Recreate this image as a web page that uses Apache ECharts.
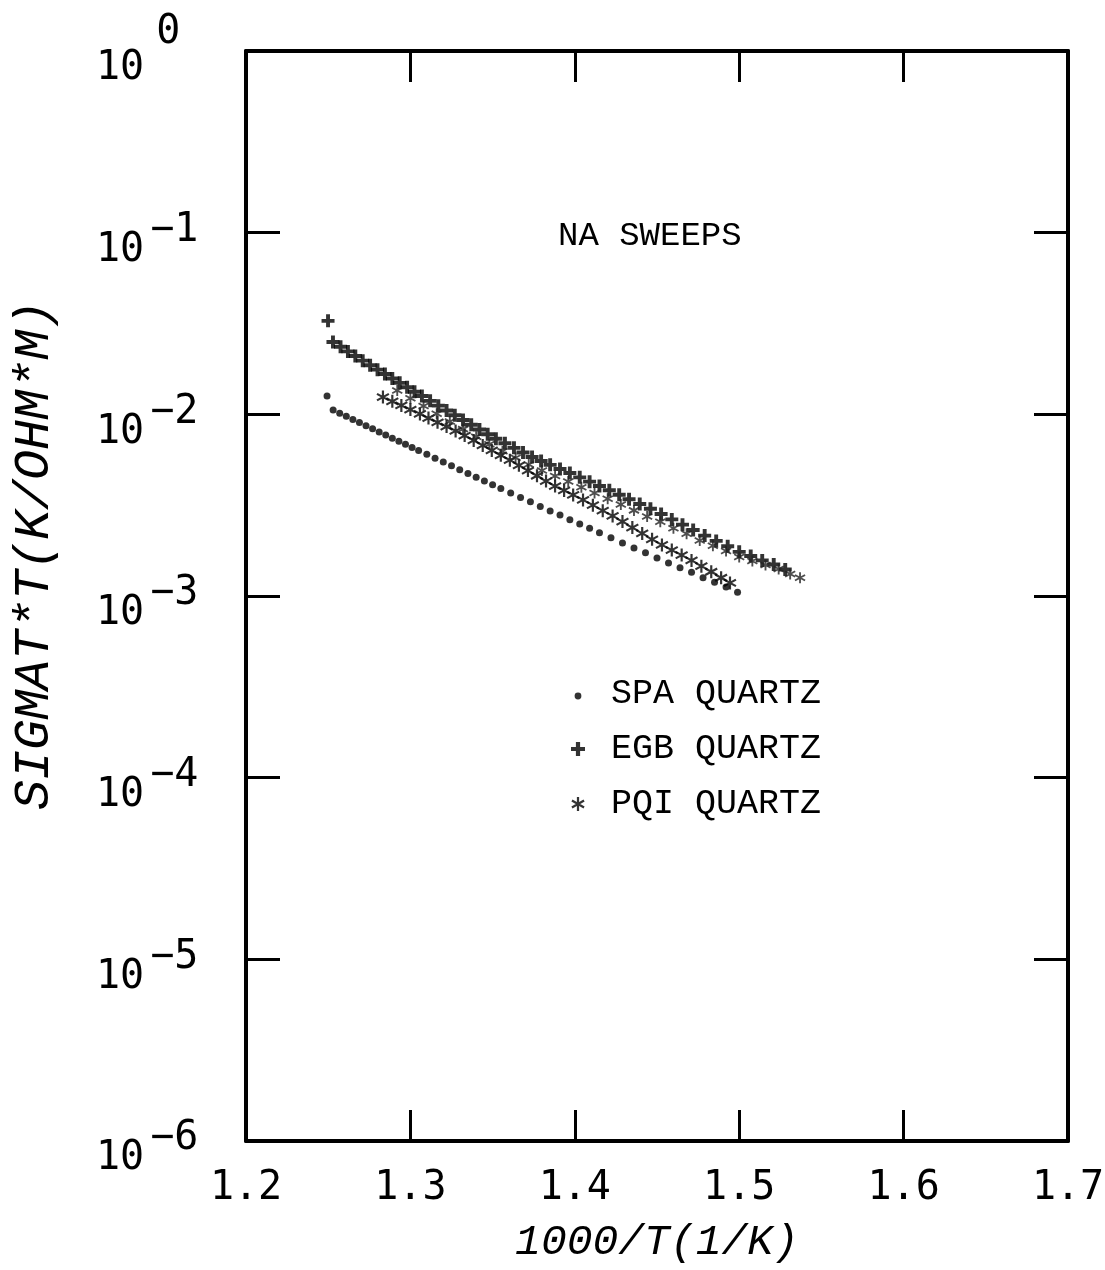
<!DOCTYPE html>
<html>
<head>
<meta charset="utf-8">
<script src="https://cdn.jsdelivr.net/npm/echarts@6/dist/echarts.min.js"></script>
<style>
  html, body { margin: 0; padding: 0; background: #fff; }
  #chart { width: 1105px; height: 1270px; }
</style>
</head>
<body>
<div id="chart"></div>
<script>
// Na-sweep conductivity data: 1000/T (1/K) versus sigma*T (K/ohm*m)
const spaX = [1.2493, 1.253, 1.257, 1.261, 1.265, 1.269, 1.273, 1.277, 1.281, 1.285, 1.289, 1.293, 1.297, 1.301, 1.305, 1.310, 1.315, 1.320, 1.325, 1.330, 1.335, 1.340, 1.345, 1.350, 1.355, 1.361, 1.367, 1.373, 1.379, 1.385, 1.391, 1.397, 1.403, 1.409, 1.415, 1.422, 1.429, 1.436, 1.443, 1.450, 1.457, 1.464, 1.471, 1.478, 1.485, 1.492, 1.499];
const spaY = [0.01262, 0.01057, 0.01015, 0.00976, 0.00938, 0.00901, 0.00866, 0.00832, 0.00800, 0.00769, 0.00739, 0.00711, 0.00684, 0.00657, 0.00632, 0.00602, 0.00574, 0.00547, 0.00521, 0.00496, 0.00473, 0.00451, 0.00430, 0.00410, 0.00391, 0.00369, 0.00349, 0.00330, 0.00311, 0.00294, 0.00279, 0.00263, 0.00249, 0.00236, 0.00223, 0.00209, 0.00196, 0.00184, 0.00173, 0.00162, 0.00152, 0.00143, 0.00135, 0.00126, 0.00119, 0.00112, 0.00105];

const egbX = [1.2499, 1.2529, 1.2575, 1.262, 1.2665, 1.271, 1.2755, 1.280, 1.2845, 1.289, 1.2935, 1.298, 1.3025, 1.307, 1.312, 1.317, 1.322, 1.327, 1.332, 1.337, 1.342, 1.347, 1.352, 1.3575, 1.363, 1.3685, 1.374, 1.3795, 1.385, 1.391, 1.397, 1.403, 1.409, 1.415, 1.421, 1.427, 1.433, 1.4395, 1.446, 1.4525, 1.459, 1.4655, 1.472, 1.479, 1.486, 1.493, 1.500, 1.507, 1.514, 1.521, 1.528];
const egbY = [0.0327, 0.02500, 0.02355, 0.02221, 0.02095, 0.01975, 0.01863, 0.01762, 0.01666, 0.01575, 0.01490, 0.01409, 0.01332, 0.01261, 0.01186, 0.01116, 0.01050, 0.00988, 0.00930, 0.00876, 0.00825, 0.00777, 0.00734, 0.00693, 0.00654, 0.00617, 0.00582, 0.00553, 0.00527, 0.00500, 0.00475, 0.00450, 0.00426, 0.00403, 0.00382, 0.00361, 0.00341, 0.00321, 0.00302, 0.00283, 0.00264, 0.00247, 0.00231, 0.00215, 0.00201, 0.00188, 0.00175, 0.00166, 0.00157, 0.00149, 0.00140];

// PQI, first sweep (lower track)
const pqiX = [1.2833, 1.289, 1.2945, 1.300, 1.3058, 1.311, 1.3165, 1.322, 1.3275, 1.333, 1.3385, 1.344, 1.3495, 1.355, 1.3605, 1.366, 1.3715, 1.377, 1.3825, 1.388, 1.3935, 1.399, 1.405, 1.411, 1.417, 1.423, 1.429, 1.435, 1.441, 1.447, 1.453, 1.459, 1.465, 1.471, 1.477, 1.483, 1.489, 1.4944];
const pqiY = [0.01245, 0.01179, 0.01119, 0.01062, 0.01005, 0.00954, 0.00904, 0.00856, 0.00810, 0.00764, 0.00718, 0.00674, 0.00633, 0.00595, 0.00559, 0.00524, 0.00490, 0.00459, 0.00429, 0.00403, 0.00381, 0.00360, 0.00338, 0.00316, 0.00295, 0.00276, 0.00257, 0.00238, 0.00221, 0.00205, 0.00191, 0.00179, 0.00168, 0.00157, 0.00146, 0.00136, 0.00126, 0.00118];

// PQI, second sweep (runs just under the EGB track)
const pqi2X = [1.292, 1.300, 1.308, 1.316, 1.324, 1.332, 1.340, 1.348, 1.356, 1.364, 1.372, 1.380, 1.388, 1.396, 1.404, 1.412, 1.420, 1.428, 1.436, 1.444, 1.452, 1.460, 1.468, 1.476, 1.484, 1.492, 1.500, 1.508, 1.516, 1.524, 1.531, 1.537];
const pqi2Y = [0.01352, 0.01225, 0.01110, 0.01007, 0.00913, 0.00829, 0.00753, 0.00685, 0.00627, 0.00576, 0.00530, 0.00491, 0.00458, 0.00427, 0.00397, 0.00369, 0.00343, 0.00319, 0.00296, 0.00274, 0.00256, 0.00236, 0.00220, 0.00202, 0.00189, 0.00177, 0.00164, 0.00156, 0.00148, 0.00141, 0.00132, 0.00126];

const seriesNames = ['SPA QUARTZ', 'EGB QUARTZ', 'PQI QUARTZ'];
const xTicks = [1.2, 1.3, 1.4, 1.5, 1.6, 1.7];
const yExponents = ['0', '−1', '−2', '−3', '−4', '−5', '−6'];

const zip = (xs, ys) => xs.map((x, i) => [x, ys[i]]);

// marker shapes
const plusPath = 'path://M4.2,0H7.8V4.2H12V7.8H7.8V12H4.2V7.8H0V4.2H4.2Z';
const starPath = 'path://M-1.6,-10L1.6,-10L1.6,10L-1.6,10Z' +
  'M-9.46,-3.614L-7.86,-6.386L9.46,3.614L7.86,6.386Z' +
  'M-9.46,3.614L7.86,-6.386L9.46,-3.614L-7.86,6.386Z';
const dotIcon = 'path://M0,0L0,0M14,14L14,14M3.6,9a3.4,3.4 0 1,0 6.8,0a3.4,3.4 0 1,0 -6.8,0Z';

const plotFont = 'Liberation Mono';
const numFont = 'DejaVu Sans Mono';

const chart = echarts.init(document.getElementById('chart'), null, { renderer: 'canvas' });

const axisLine = { show: true, onZero: false, lineStyle: { color: '#000', width: 4 } };
const tickStyle = { color: '#000', width: 3 };

chart.setOption({
  animation: false,
  backgroundColor: '#fff',
  title: {
    text: 'NA SWEEPS',
    left: 553,
    top: 214,
    textStyle: { fontFamily: plotFont, fontSize: 34, fontWeight: 'normal', color: '#000' }
  },
  legend: {
    orient: 'vertical',
    left: 566,
    top: 668,
    itemWidth: 14,
    itemHeight: 14,
    itemGap: 13,
    selectedMode: false,
    formatter: name => ' ' + name,
    textStyle: { fontFamily: plotFont, fontSize: 35, color: '#000', lineHeight: 42 },
    itemStyle: { borderWidth: 0 },
    data: [
      { name: seriesNames[0], icon: dotIcon },
      { name: seriesNames[1], icon: plusPath },
      { name: seriesNames[2], icon: starPath }
    ]
  },
  grid: { left: 246, right: 37, top: 51, bottom: 129, outerBoundsMode: 'none', containLabel: false },
  xAxis: [
    {
      type: 'value',
      min: 1.2, max: 1.7, interval: 0.1,
      position: 'bottom',
      axisLine,
      axisTick: { show: true, inside: true, length: 31, lineStyle: tickStyle },
      splitLine: { show: false },
      axisLabel: {
        margin: 28,
        fontFamily: numFont, fontSize: 40, color: '#000',
        formatter: v => { const t = xTicks.find(k => Math.abs(k - v) < 1e-6); return t === undefined ? '' : t.toFixed(1); }
      },
      name: '1000/T(1/K)',
      nameLocation: 'middle',
      nameGap: 80,
      nameTextStyle: { fontFamily: plotFont, fontStyle: 'italic', fontSize: 43, color: '#000' }
    },
    {
      type: 'value',
      min: 1.2, max: 1.7, interval: 0.1,
      position: 'top',
      axisLine,
      axisTick: { show: true, inside: true, length: 31, lineStyle: tickStyle },
      splitLine: { show: false },
      axisLabel: { show: false }
    }
  ],
  yAxis: [
    {
      type: 'log',
      logBase: 10,
      min: 1e-6, max: 1,
      interval: 1,
      position: 'left',
      axisLine,
      axisTick: { show: true, inside: true, length: 34, lineStyle: tickStyle },
      minorTick: { show: false },
      splitLine: { show: false },
      axisLabel: {
        align: 'left',
        margin: 150,
        formatter: v => {
          const e = Math.round(-Math.log10(v));
          const lab = yExponents[e];
          return e === 0 ? '{b|10}{e0|' + lab + '}' : '{b|10}{e|' + lab + '}';
        },
        rich: {
          b: { fontFamily: numFont, fontSize: 40, color: '#000', padding: [36, 0, 0, 0] },
          e: { fontFamily: numFont, fontSize: 40, color: '#000', padding: [0, 0, 4, 6] },
          e0: { fontFamily: numFont, fontSize: 40, color: '#000', padding: [0, 0, 36, 12] }
        }
      },
      name: 'SIGMAT*T(K/OHM*M)',
      nameLocation: 'middle',
      nameGap: 186,
      nameRotate: 90,
      nameTextStyle: { fontFamily: plotFont, fontStyle: 'italic', fontSize: 50, color: '#000', padding: [0, 0, 0, 82] }
    },
    {
      type: 'log',
      logBase: 10,
      min: 1e-6, max: 1,
      interval: 1,
      position: 'right',
      axisLine,
      axisTick: { show: true, inside: true, length: 34, lineStyle: tickStyle },
      minorTick: { show: false },
      splitLine: { show: false },
      axisLabel: { show: false }
    }
  ],
  series: [
    {
      name: seriesNames[0], type: 'scatter', symbol: 'circle', symbolSize: 7,
      itemStyle: { color: '#000' }, data: zip(spaX, spaY)
    },
    {
      name: seriesNames[1], type: 'scatter', symbol: plusPath, symbolSize: 13,
      itemStyle: { color: '#000' }, data: zip(egbX, egbY)
    },
    {
      name: seriesNames[2], type: 'scatter', symbol: starPath, symbolSize: 13,
      itemStyle: { color: '#000' }, data: zip(pqiX, pqiY)
    },
    {
      name: seriesNames[2], type: 'scatter', symbol: starPath, symbolSize: 11,
      itemStyle: { color: '#222' }, data: zip(pqi2X, pqi2Y)
    }
  ]
});
</script>
</body>
</html>
